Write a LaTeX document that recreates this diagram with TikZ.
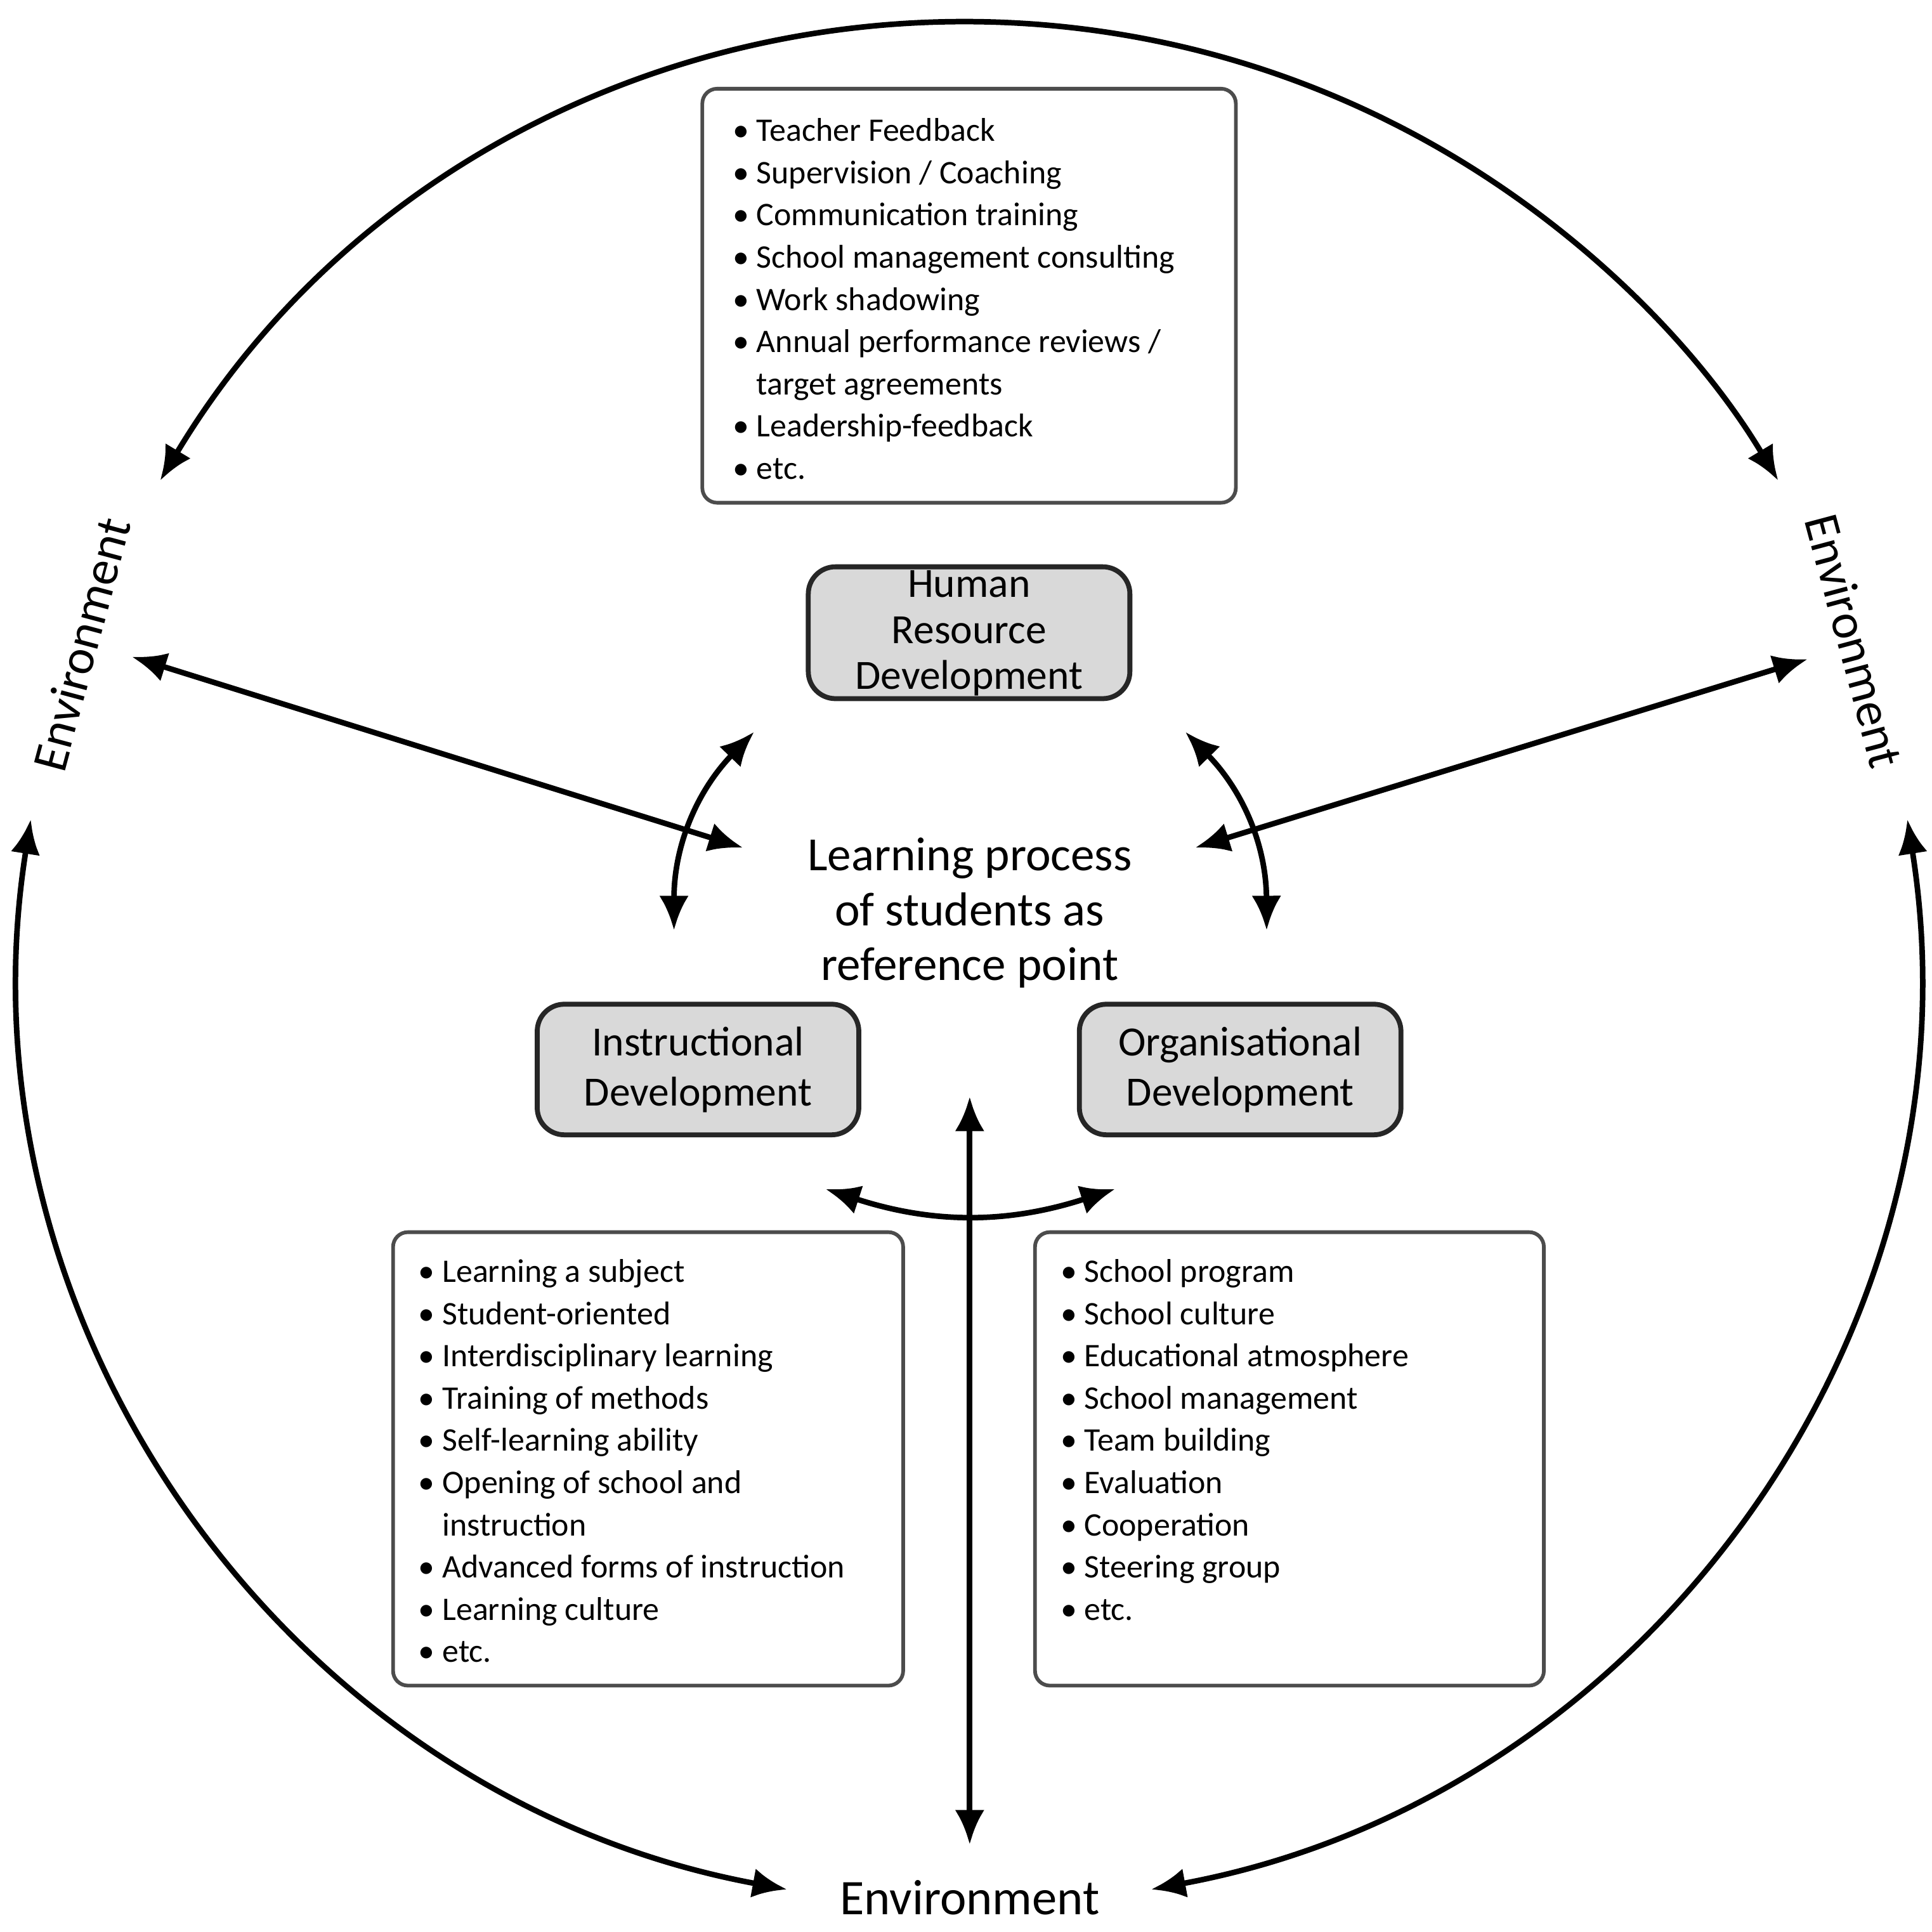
\documentclass[tikz,border=0pt]{standalone}
\usepackage{fontspec}
\setmainfont{Carlito}
\usetikzlibrary{arrows.meta}
\begin{document}
\begin{tikzpicture}[x=0.1mm,y=-0.1mm,
  arr/.style={{Latex[length=2.8mm,width=2.4mm]}-{Latex[length=2.8mm,width=2.4mm]}, line width=0.45mm},
  list/.style={draw=black!70, line width=0.3mm, rounded corners=1.2mm, inner sep=0pt},
  dev/.style={draw=black!85, fill=black!15, line width=0.4mm, rounded corners=2.2mm, inner sep=0pt},
  lt/.style={font=\fontsize{7.6}{9.75}\selectfont, anchor=north west, align=left, inner sep=0pt},
  bt/.style={font=\fontsize{9.6}{10.6}\selectfont, align=center},
  env/.style={font=\fontsize{11.5}{13}\selectfont}]
\useasboundingbox (0,0) rectangle (1568,1568);
% circle arcs
\draw[arr] (130,390) coordinate (ta) arc[start angle=149,end angle=31,x radius=766,y radius=-766] coordinate (tb);
\draw[arr] (25,665) coordinate (la) arc[start angle=171,end angle=259.5,x radius=762,y radius=-762] coordinate (lb);
\draw[arr] (1548,665) coordinate (ra) arc[start angle=9,end angle=-79.5,x radius=762,y radius=-762] coordinate (rb);
% Environment labels
\node[env,rotate=75] (envl) at (66,523) {Environment};
\node[env,rotate=-75] (envr) at (1505,520) {Environment};
\node[env] (envb) at (787,1540) {Environment};
% list boxes
\draw[list] (570,72) rectangle (1003,408);
\node[lt] (l1) at (594,90) {\begin{tabular}{@{}l@{\ }l@{}}
\textbullet & Teacher Feedback\\
\textbullet & Supervision / Coaching\\
\textbullet & Communication training\\
\textbullet & School management consulting\\
\textbullet & Work shadowing\\
\textbullet & Annual performance reviews /\\
 & target agreements\\
\textbullet & Leadership-feedback\\
\textbullet & etc.
\end{tabular}};
\draw[list] (319,1000) rectangle (733,1368);
\node[lt] (l2) at (339,1016) {\begin{tabular}{@{}l@{\ }l@{}}
\textbullet & Learning a subject\\
\textbullet & Student-oriented\\
\textbullet & Interdisciplinary learning\\
\textbullet & Training of methods\\
\textbullet & Self-learning ability\\
\textbullet & Opening of school and\\
 & instruction\\
\textbullet & Advanced forms of instruction\\
\textbullet & Learning culture\\
\textbullet & etc.
\end{tabular}};
\draw[list] (840,1000) rectangle (1253,1368);
\node[lt] (l3) at (860,1016) {\begin{tabular}{@{}l@{\ }l@{}}
\textbullet & School program\\
\textbullet & School culture\\
\textbullet & Educational atmosphere\\
\textbullet & School management\\
\textbullet & Team building\\
\textbullet & Evaluation\\
\textbullet & Cooperation\\
\textbullet & Steering group\\
\textbullet & etc.
\end{tabular}};
% dev boxes
\draw[dev] (656,460) rectangle (917,567);
\node[bt] (hrd) at (786.5,514) {Human\\Resource\\Development};
\draw[dev] (436,815) rectangle (697,921);
\node[bt] (id) at (566.5,868) {Instructional\\[1pt]Development};
\draw[dev] (876,815) rectangle (1137,921);
\node[bt] (od) at (1006.5,868) {Organisational\\[1pt]Development};
% center text
\node[font=\fontsize{11}{12.7}\selectfont, align=center] (lp) at (787,741) {Learning process\\of students as\\reference point};
% arrows
\coordinate (a1) at (107,533); \coordinate (a2) at (603,688);
\coordinate (b1) at (1467,535); \coordinate (b2) at (970,688);
\coordinate (c1) at (612,594); \coordinate (c2) at (547,755);
\coordinate (d1) at (962,594); \coordinate (d2) at (1028,755);
\coordinate (e1) at (670,965); \coordinate (e2) at (905,965);
\coordinate (f1) at (787,890); \coordinate (f2) at (787,1497);
\draw[arr] (a1) -- (a2);
\draw[arr] (b1) -- (b2);
\draw[arr] (c1) to[bend right=22] (c2);
\draw[arr] (d1) to[bend left=22] (d2);
\draw[arr] (e1) to[bend right=18] (e2);
\draw[arr] (f1) -- (f2);
\end{tikzpicture}
\end{document}
